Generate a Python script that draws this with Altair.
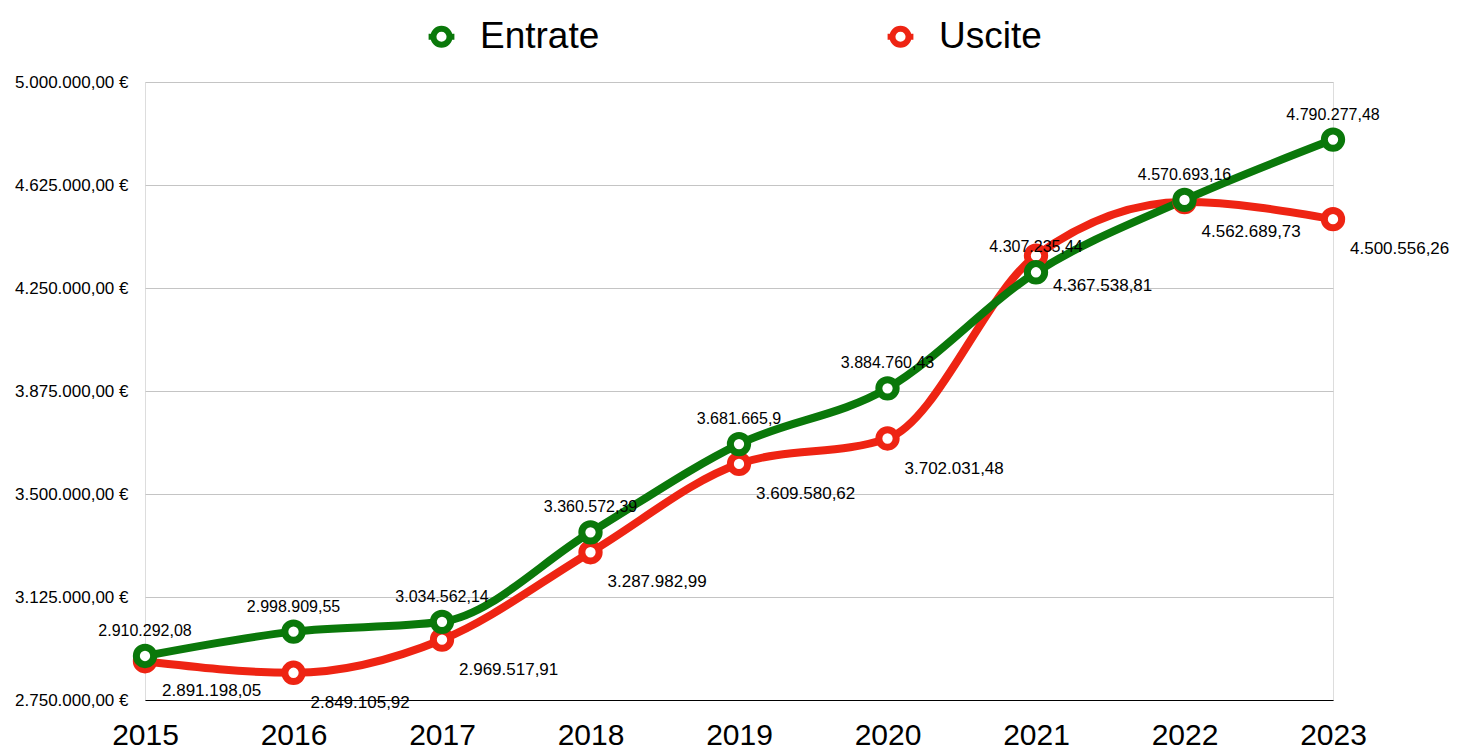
import altair as alt
import pandas as pd

years = [2015, 2016, 2017, 2018, 2019, 2020, 2021, 2022, 2023]
entrate = [2910292.08, 2998909.55, 3034562.14, 3360572.39, 3681665.90,
           3884760.43, 4307235.44, 4570693.16, 4790277.48]
uscite = [2891198.05, 2849105.92, 2969517.91, 3287982.99, 3609580.62,
          3702031.48, 4367538.81, 4562689.73, 4500556.26]
series = ["Entrate", "Uscite"]
colors = ["#0a780a", "#ee2413"]
y_ticks = [2750000, 3125000, 3500000, 3875000, 4250000, 4625000, 5000000]

rows = []
for y, e, u in zip(years, entrate, uscite):
    rows.append({"anno": y, "serie": "Uscite", "valore": u})
for y, e, u in zip(years, entrate, uscite):
    rows.append({"anno": y, "serie": "Entrate", "valore": e})
df = pd.DataFrame(rows)

FONT = "Liberation Sans"

color_scale = alt.Scale(domain=series, range=colors)
x_enc = alt.X("anno:Q",
              scale=alt.Scale(domain=[2015, 2023], nice=False, zero=False),
              axis=alt.Axis(values=years, format="d", title=None, grid=False,
                            ticks=False, domain=True, domainColor="black",
                            domainWidth=1.2, labelFontSize=30, labelColor="black",
                            labelPadding=20, labelFont=FONT, labelFlush=False))
y_enc = alt.Y("valore:Q",
              scale=alt.Scale(domain=[2750000, 5000000], nice=False, zero=False),
              axis=alt.Axis(values=y_ticks, format="$,.2f", title=None, grid=True,
                            gridColor="#c4c4c4", gridWidth=1, ticks=False,
                            domain=False, labelFontSize=17, labelColor="black",
                            labelPadding=17, labelFont=FONT))

base = alt.Chart(df).transform_calculate(
    etichetta="format(datum.valore, ',.2~f')"
)

legend_symbol = "M -1 0 A 1 1 0 1 1 1 0 A 1 1 0 1 1 -1 0 Z M -1.6 0 L -1 0 M 1 0 L 1.6 0"

legend = alt.Legend(title=None, orient="none", direction="horizontal",
                    legendX=268, legendY=-64, labelFontSize=37,
                    labelFont=FONT, labelColor="black", symbolType=legend_symbol,
                    symbolSize=260, symbolStrokeWidth=6, symbolFillColor="white",
                    symbolOpacity=1, columnPadding=272, labelOffset=20,
                    symbolOffset=10)

color_enc = alt.Color("serie:N", scale=color_scale, legend=legend)


def line_layer(name):
    return base.transform_filter(alt.datum.serie == name).mark_line(
        strokeWidth=8, interpolate="monotone"
    ).encode(x=x_enc, y=y_enc, color=color_enc)


def point_layer(name):
    return base.transform_filter(alt.datum.serie == name).mark_point(
        shape="circle", filled=False, fill="white", fillOpacity=1,
        strokeWidth=7, size=300, opacity=1
    ).encode(x=x_enc, y=y_enc, color=color_enc)


text_e = base.transform_filter(alt.datum.serie == "Entrate").mark_text(
    fontSize=16, font=FONT, color="black", dy=-25, baseline="middle"
).encode(x=x_enc, y=y_enc, text="etichetta:N")

text_u = base.transform_filter(alt.datum.serie == "Uscite").mark_text(
    fontSize=17, font=FONT, color="black", dx=17, dy=30, align="left",
    baseline="middle"
).encode(x=x_enc, y=y_enc, text="etichetta:N")

chart = alt.layer(
    line_layer("Uscite"),
    line_layer("Entrate"),
    point_layer("Uscite"),
    point_layer("Entrate"),
    text_e,
    text_u,
).properties(
    width=1188, height=618,
    padding={"left": 137, "top": 74, "right": 124, "bottom": 52},
    autosize=alt.AutoSizeParams(type="none"),
).configure_view(stroke=None).configure(background="white")

chart.save("out.html", embed_options={
    "renderer": "svg", "actions": False,
    "formatLocale": {"decimal": ",", "thousands": ".", "grouping": [3],
                     "currency": ["", " €"]},
})
